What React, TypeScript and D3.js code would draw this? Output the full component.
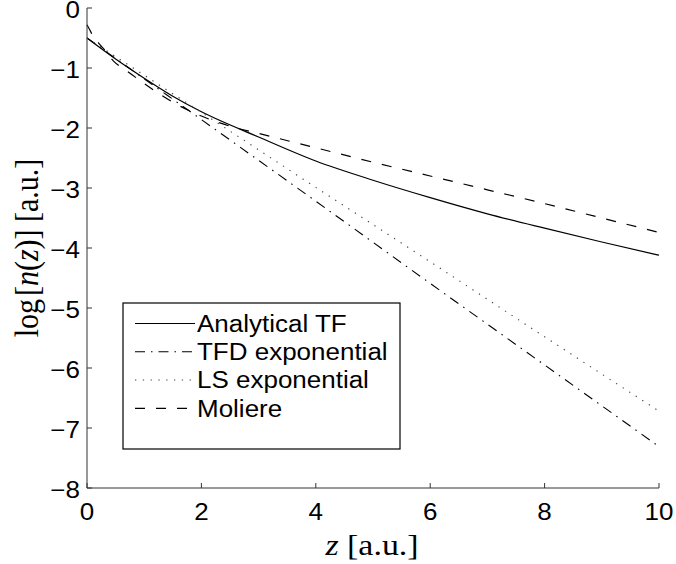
import React from "react";
import * as d3 from "d3";

const zTF = [0, 0.5, 1, 1.5, 2, 3, 4, 5, 6, 7, 8, 9, 10];
const analyticalTF = [-0.5, -0.85, -1.17, -1.47, -1.73, -2.15, -2.55, -2.87, -3.16, -3.43, -3.67, -3.9, -4.12];

const zExp = [0, 2, 4, 6, 8, 10];
const tfdExponential = [-0.5, -1.86, -3.22, -4.59, -5.95, -7.31];
const lsExponential = [-0.5, -1.74, -2.99, -4.23, -5.48, -6.72];

const zMol = [0, 0.04, 0.1, 0.2, 0.3, 0.46, 0.7, 1, 1.5, 2, 2.5, 3, 4, 5, 6, 7, 8, 9, 10];
const moliere = [-0.28, -0.35, -0.46, -0.58, -0.69, -0.88, -1.05, -1.26, -1.57, -1.8, -1.97, -2.09, -2.33, -2.57, -2.8, -3.03, -3.26, -3.5, -3.74];

const xTicks = [0, 2, 4, 6, 8, 10];
const yTicks = [0, -1, -2, -3, -4, -5, -6, -7, -8];

const legendLabels = ["Analytical TF", "TFD exponential", "LS exponential", "Moliere"];

const styles = [
  { dash: "none", color: "#000", w: 1.2 },
  { dash: "10,6,1.5,6", color: "#000", w: 1.1 },
  { dash: "1.3,6.5", color: "#444", w: 1.1 },
  { dash: "10,11", color: "#000", w: 1.2 },
];

export default function App() {
  const W = 676, H = 564;
  const SX = 1.13;
  const x = d3.scaleLinear().domain([0, 10]).range([87, 659]);
  const y = d3.scaleLinear().domain([0, -8]).range([8, 488]);

  const mk = (xs: number[], ys: number[]) =>
    d3.line<number>().x((_, i) => x(xs[i])).y((d) => y(d)).curve(d3.curveMonotoneX)(ys) || "";

  const paths = [
    mk(zTF, analyticalTF),
    mk(zExp, tfdExponential),
    mk(zExp, lsExponential),
    mk(zMol, moliere),
  ];

  const font = "'Liberation Sans', Arial, Helvetica, sans-serif";
  const serif = "'Liberation Serif', 'Times New Roman', serif";
  const axisColor = "#333";

  const legX0 = 123, legX1 = 400, legY0 = 303, legY1 = 449;
  const rowY = [323.5, 351.8, 380, 408.3];

  return (
    <svg width={W} height={H} style={{ position: "absolute", left: 0, top: 0, background: "#fff" }}>
      <rect x={0} y={0} width={W} height={H} fill="#fff" />
      {paths.map((p, i) => (
        <path key={i} d={p} fill="none" stroke={styles[i].color} strokeWidth={styles[i].w}
          strokeDasharray={styles[i].dash === "none" ? undefined : styles[i].dash} />
      ))}
      {/* axes */}
      <line x1={x(0)} x2={x(0)} y1={y(0)} y2={y(-8)} stroke={axisColor} strokeWidth={1} />
      <line x1={x(0)} x2={x(10)} y1={y(-8)} y2={y(-8)} stroke={axisColor} strokeWidth={1} />
      {yTicks.map((t) => (
        <g key={"y" + t}>
          <line x1={x(0)} x2={x(0) + 5} y1={y(t)} y2={y(t)} stroke={axisColor} strokeWidth={1} />
          <text transform={`translate(80,${y(t) + 1.5}) scale(${SX},1)`} dy="0.36em" textAnchor="end"
            fontFamily={font} fontSize={23} fill="#000">
            {t === 0 ? "0" : "\u2212" + Math.abs(t)}
          </text>
        </g>
      ))}
      {xTicks.map((t) => (
        <g key={"x" + t}>
          <line x1={x(t)} x2={x(t)} y1={y(-8)} y2={y(-8) - 5} stroke={axisColor} strokeWidth={1} />
          <text transform={`translate(${x(t)},520) scale(${SX},1)`} textAnchor="middle"
            fontFamily={font} fontSize={23} fill="#000">
            {t}
          </text>
        </g>
      ))}
      {/* axis labels */}
      <text transform={`translate(372,555) scale(${SX},1)`} textAnchor="middle" fontFamily={serif} fontSize={30} fill="#000">
        <tspan fontStyle="italic">z</tspan>
        <tspan> [a.u.]</tspan>
      </text>
      <text transform={`translate(38,248) scale(${SX},1) rotate(-90)`} textAnchor="middle" fontFamily={serif} fontSize={30} fill="#000">
        <tspan>log</tspan>
        <tspan dx="3">[</tspan>
        <tspan fontStyle="italic">n</tspan>
        <tspan>(</tspan>
        <tspan fontStyle="italic">z</tspan>
        <tspan>)]</tspan>
        <tspan> [a.u.]</tspan>
      </text>
      {/* legend */}
      <rect x={legX0} y={legY0} width={legX1 - legX0} height={legY1 - legY0} fill="#fff" stroke="#000" strokeWidth={1.2} />
      {legendLabels.map((lab, i) => (
        <g key={lab}>
          <line x1={135} x2={195} y1={rowY[i]} y2={rowY[i]} stroke={styles[i].color} strokeWidth={styles[i].w}
            strokeDasharray={styles[i].dash === "none" ? undefined : styles[i].dash} />
          <text transform={`translate(197,${rowY[i]}) scale(${SX},1)`} dy="0.36em" fontFamily={font} fontSize={23} fill="#000">
            {lab}
          </text>
        </g>
      ))}
    </svg>
  );
}
